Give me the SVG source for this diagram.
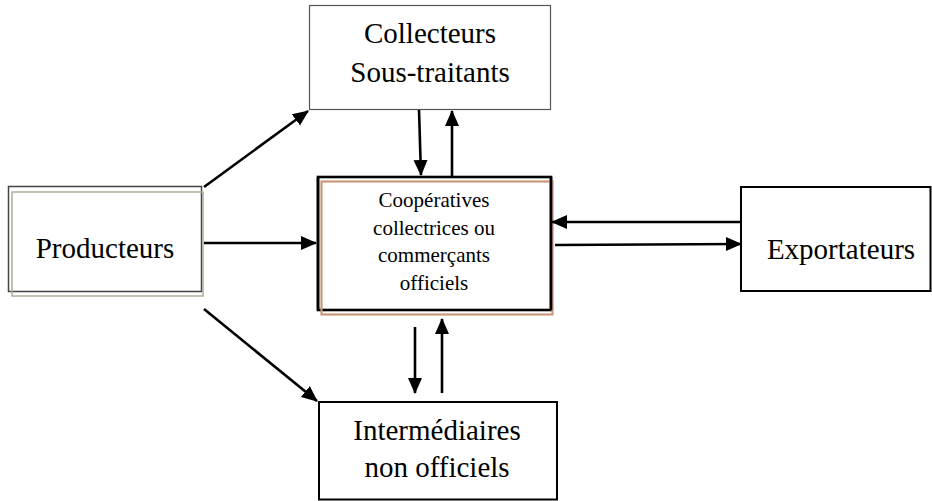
<svg xmlns="http://www.w3.org/2000/svg" width="932" height="501" viewBox="0 0 932 501">
<style>
text { font-family: "Liberation Serif", "Times New Roman", serif; fill: #000; text-anchor: middle; }
.big { font-size: 29px; }
.small { font-size: 21px; }
.box { fill: #fff; stroke: #000; stroke-width: 2; }
.conn { stroke: #000; stroke-width: 2.6; fill: none; marker-end: url(#ah); }
</style>
<defs>
<marker id="ah" markerUnits="userSpaceOnUse" markerWidth="16" markerHeight="16" viewBox="0 0 16 16" refX="15" refY="8" orient="auto">
<path d="M0,1 L16,8 L0,15 Z" fill="#000"/>
</marker>
</defs>
<rect width="932" height="501" fill="#fff"/>
<g id="producteurs">
<rect x="8.5" y="186.5" width="193" height="105" fill="#fff" stroke="#444" stroke-width="1.5"/>
<rect x="12" y="192" width="191" height="104" fill="none" stroke="#a9b097" stroke-width="1.5"/>
<text class="big" x="105" y="258">Producteurs</text>
</g>
<g id="collecteurs">
<rect x="309.5" y="5.5" width="241" height="104" fill="#fff" stroke="#555" stroke-width="1.2"/>
<text class="big" x="430" y="43">Collecteurs</text>
<text class="big" x="430" y="82">Sous-traitants</text>
</g>
<g id="cooperatives">
<rect x="318" y="177" width="233" height="133" fill="#fff" stroke="#000" stroke-width="2.6"/>
<rect x="321.5" y="181.5" width="231" height="133" fill="none" stroke="#c8987a" stroke-width="2.2"/>
<rect x="318" y="177" width="233" height="133" fill="none" stroke="#000" stroke-width="2.6" stroke-dasharray="0 233 133 233 133"/>
<text class="small" x="434" y="207">Coopératives</text>
<text class="small" x="434" y="235">collectrices ou</text>
<text class="small" x="434" y="262">commerçants</text>
<text class="small" x="434" y="290">officiels</text>
</g>
<g id="exportateurs">
<rect x="741" y="187" width="189.5" height="104" class="box"/>
<text class="big" x="841" y="259">Exportateurs</text>
</g>
<g id="intermediaires">
<rect x="319" y="402" width="238" height="97.5" class="box"/>
<text class="big" x="437" y="440">Intermédiaires</text>
<text class="big" x="437" y="477">non officiels</text>
</g>
<g id="connectors">
<line class="conn" x1="204" y1="187" x2="308" y2="111"/>
<line class="conn" x1="204" y1="243" x2="316" y2="243"/>
<line class="conn" x1="204" y1="309" x2="317" y2="401"/>
<line class="conn" x1="419" y1="110" x2="421" y2="175"/>
<line class="conn" x1="452" y1="176" x2="452" y2="111"/>
<line class="conn" x1="741" y1="222" x2="552" y2="222"/>
<line class="conn" x1="555" y1="245" x2="741" y2="244"/>
<line class="conn" x1="415" y1="327" x2="415" y2="393"/>
<line class="conn" x1="442" y1="393" x2="442" y2="319"/>
</g>
</svg>
